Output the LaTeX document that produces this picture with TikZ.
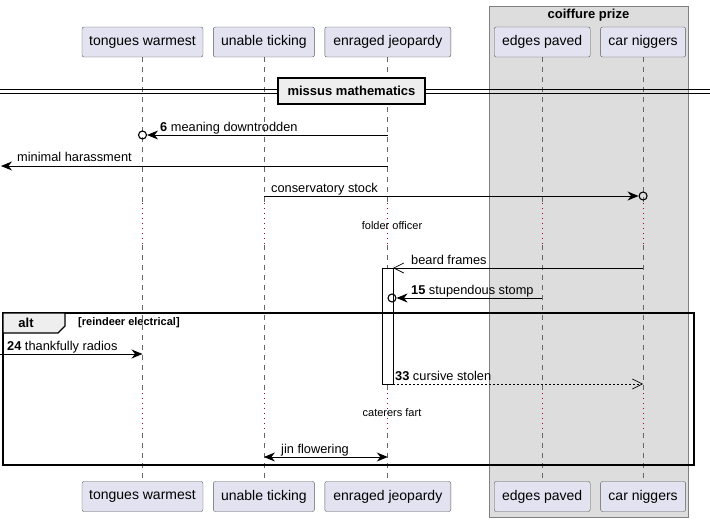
\documentclass[tikz,border=0pt]{standalone}
\usepackage{fontspec}
\setmainfont{Liberation Sans}
\usetikzlibrary{positioning,arrows.meta}
\definecolor{partfill}{HTML}{E2E2F0}
\definecolor{groupgray}{HTML}{DDDDDD}
\definecolor{tabgray}{HTML}{EEEEEE}
\definecolor{delayred}{HTML}{A80036}
\tikzstyle{participant} = [draw=black!65, fill=partfill, rounded corners=2pt, minimum height=30pt, inner xsep=7pt, font=\fontsize{14}{16}\selectfont]
\tikzstyle{groupbox} = [draw=black!50, fill=groupgray, line width=0.8pt]
\tikzstyle{lifeline} = [draw=black!60, line width=0.7pt, dash pattern=on 5pt off 5pt]
\tikzstyle{delayline} = [draw=delayred, line width=0.8pt, dash pattern=on 1pt off 4pt]
\tikzstyle{sync} = [line width=0.9pt, -{Stealth[length=11pt,width=9pt,inset=3.5pt]}]
\tikzstyle{both} = [line width=0.9pt, {Stealth[length=11pt,width=9pt,inset=3.5pt]}-{Stealth[length=11pt,width=9pt,inset=3.5pt]}]
\tikzstyle{async} = [line width=0.9pt, -{Straight Barb[length=10pt,width=10pt,line width=0.7pt]}]
\tikzstyle{reply} = [async, dash pattern=on 2pt off 2pt]
\tikzstyle{ring} = [circle, draw, line width=1.1pt, minimum size=8pt, inner sep=0pt]
\tikzstyle{msglabel} = [anchor=base west, inner sep=0pt, font=\fontsize{12.8}{14}\selectfont]
\tikzstyle{delaytext} = [inner sep=0pt, font=\fontsize{11}{13}\selectfont]
\tikzstyle{divider} = [draw, fill=tabgray, line width=1.6pt, minimum width=147pt, minimum height=26pt, font=\bfseries\fontsize{13}{15}\selectfont]
\tikzstyle{activation} = [draw, fill=white, line width=0.9pt]

\begin{document}
\begin{tikzpicture}[x=1pt,y=-1pt]
		\useasboundingbox (0,0) rectangle (710,522);
		\draw[groupbox] (489,6) rectangle (688,517);
		\node[font=\bfseries\fontsize{13}{15}\selectfont] (grouptitle) at (588.5,15) {coiffure prize};

		\node[participant, minimum width=121pt] (tw) at (142.5,42) {tongues warmest};
		\node[participant, minimum width=101pt, right=10pt of tw] (ut) {unable ticking};
		\node[participant, minimum width=126pt, right=10pt of ut] (ej) {enraged jeopardy};
		\node[participant, minimum width=96pt, right=43pt of ej] (ep) {edges paved};
		\node[participant, minimum width=85pt, right=10pt of ep] (cn) {car niggers};
		\node[participant, minimum width=121pt] (twb) at (tw |- 0,496.5) {tongues warmest};
		\node[participant, minimum width=101pt] (utb) at (ut |- 0,496.5) {unable ticking};
		\node[participant, minimum width=126pt] (ejb) at (ej |- 0,496.5) {enraged jeopardy};
		\node[participant, minimum width=96pt] (epb) at (ep |- 0,496.5) {edges paved};
		\node[participant, minimum width=85pt] (cnb) at (cn |- 0,496.5) {car niggers};

		\draw[lifeline] (tw) -- (tw |- 0,203) (tw |- 0,245) -- (tw |- 0,393) (tw |- 0,433) -- (twb);
		\draw[lifeline] (ut) -- (ut |- 0,203) (ut |- 0,245) -- (ut |- 0,393) (ut |- 0,433) -- (utb);
		\draw[lifeline] (ej) -- (ej |- 0,203) (ej |- 0,245) -- (ej |- 0,393) (ej |- 0,433) -- (ejb);
		\draw[lifeline] (ep) -- (ep |- 0,203) (ep |- 0,245) -- (ep |- 0,393) (ep |- 0,433) -- (epb);
		\draw[lifeline] (cn) -- (cn |- 0,203) (cn |- 0,245) -- (cn |- 0,393) (cn |- 0,433) -- (cnb);
		\draw[delayline] (tw |- 0,203) -- (tw |- 0,245) (tw |- 0,393) -- (tw |- 0,433);
		\draw[delayline] (ut |- 0,203) -- (ut |- 0,245) (ut |- 0,393) -- (ut |- 0,433);
		\draw[delayline] (ej |- 0,203) -- (ej |- 0,245) (ej |- 0,393) -- (ej |- 0,433);
		\draw[delayline] (ep |- 0,203) -- (ep |- 0,245) (ep |- 0,393) -- (ep |- 0,433);
		\draw[delayline] (cn |- 0,203) -- (cn |- 0,245) (cn |- 0,393) -- (cn |- 0,433);

		\draw[line width=0.9pt] (0,89) -- (710,89) (0,93) -- (710,93);
		\node[divider] (missus) at (351.5,91) {missus mathematics};

		\node[ring] (r6) at (tw |- 0,135) {};
		\draw[sync] (ej |- r6) -- (r6.east);
		\node[msglabel] (l6) at (160,131) {\textbf{6} meaning downtrodden};

		\coordinate (lost) at (1,166);
		\draw[sync] (ej |- lost) -- (lost);
		\node[msglabel] (lminimal) at (17,161) {minimal harassment};

		\node[ring] (rcs) at (cn |- 0,196) {};
		\draw[sync] (ut |- rcs) -- (rcs.west);
		\node[msglabel] (lcs) at (271,192) {conservatory stock};

		\node[delaytext] (folder) at (392,226) {folder officer};

		\draw[activation] (382,268) rectangle (393,384);
		\coordinate (actbf) at (393,268);
		\draw[async] (cn |- actbf) -- (actbf);
		\node[msglabel] (lbf) at (411,264) {beard frames};

		\node[ring] (r15) at (392,298) {};
		\draw[sync] (ep |- r15) -- (r15.east);
		\node[msglabel] (l15) at (411,294) {\textbf{15} stupendous stomp};

		\draw[line width=1.6pt] (3,313) rectangle (694,465);
		\draw[fill=tabgray, line width=1.1pt] (3,313) -- (65,313) -- (65,326) -- (58,333) -- (3,333) -- cycle;
		\node[font=\bfseries\fontsize{13}{15}\selectfont] (alt) at (26,323) {alt};
		\node[anchor=west, inner sep=0pt, font=\bfseries\fontsize{11}{13}\selectfont] (cond) at (78,323) {[reindeer electrical]};

		\coordinate (found) at (0,354);
		\draw[sync] (found) -- (tw |- found);
		\node[msglabel] (l24) at (7,350) {\textbf{24} thankfully radios};

		\coordinate (act33) at (393,384);
		\draw[reply] (act33) -- (cn |- act33);
		\node[msglabel] (l33) at (395,380) {\textbf{33} cursive stolen};

		\node[delaytext] (caterers) at (392,413) {caterers fart};

		\coordinate (jin) at (0,457);
		\draw[both] (ut |- jin) -- (ej |- jin);
		\node[msglabel] (ljin) at (281,453) {jin flowering};
	\end{tikzpicture}
\end{document}
